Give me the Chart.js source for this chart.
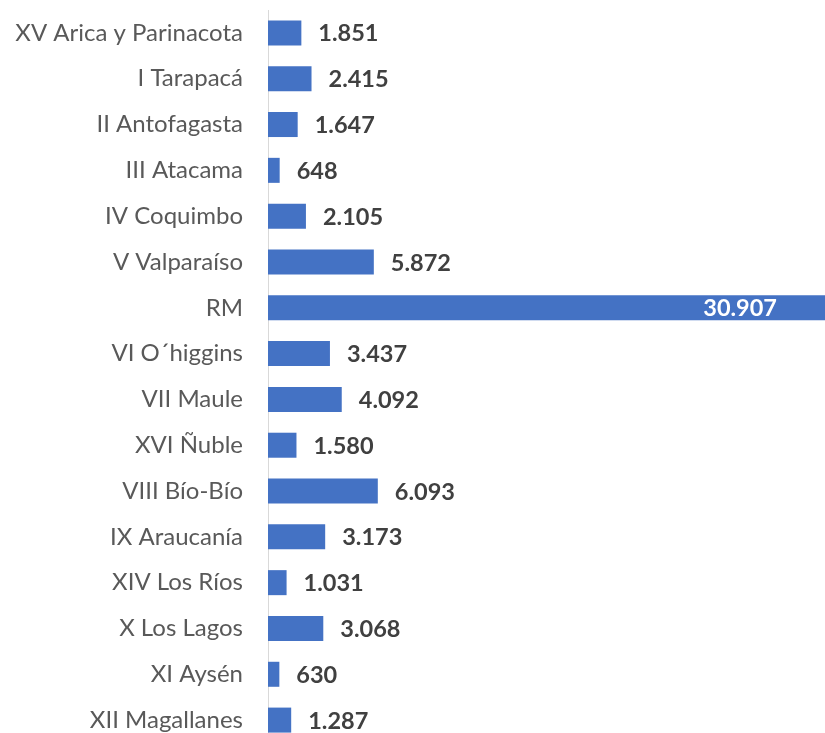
<!DOCTYPE html>
<html>
<head>
<meta charset="utf-8">
<script src="https://cdn.jsdelivr.net/npm/chart.js@4.4.0/dist/chart.umd.min.js"></script>
<style>
  html, body { margin: 0; padding: 0; background: #fff; overflow: hidden; }
  #wrap { position: relative; width: 825px; height: 743px; }
</style>
</head>
<body>
<div id="wrap"><canvas id="regiones"></canvas></div>
<script>
const regiones = ['XV Arica y Parinacota', 'I Tarapacá', 'II Antofagasta', 'III Atacama', 'IV Coquimbo',
    'V Valparaíso', 'RM', 'VI O´higgins', 'VII Maule', 'XVI Ñuble', 'VIII Bío-Bío', 'IX Araucanía',
    'XIV Los Ríos', 'X Los Lagos', 'XI Aysén', 'XII Magallanes'];
const valores = [1851, 2415, 1647, 648, 2105, 5872, 30907, 3437, 4092, 1580, 6093, 3173, 1031, 3068, 630, 1287];

// formato chileno: punto como separador de miles
function fmt(v) {
    return String(v).replace(/\B(?=(\d{3})+(?!\d))/g, '.');
}

// etiquetas de valor al final de cada barra
const etiquetas = {
    id: 'etiquetas',
    afterDatasetsDraw(chart) {
        const ctx = chart.ctx;
        const meta = chart.getDatasetMeta(0);
        ctx.save();
        ctx.font = 'bold 23.5px Lato';
        ctx.textBaseline = 'middle';
        meta.data.forEach((bar, i) => {
            const txt = fmt(valores[i]);
            const w = ctx.measureText(txt).width;
            if (bar.x + 17 + w > chart.chartArea.right) {
                ctx.fillStyle = '#ffffff';
                ctx.textAlign = 'right';
                ctx.fillText(txt, bar.x - 48, bar.y + 1);
            } else {
                ctx.fillStyle = '#404040';
                ctx.textAlign = 'left';
                ctx.fillText(txt, bar.x + 17, bar.y + 1);
            }
        });
        ctx.restore();
    }
};

const ctx = document.getElementById('regiones').getContext('2d');
new Chart(ctx, {
    type: 'bar',
    data: {
        labels: regiones,
        datasets: [{
            data: valores,
            backgroundColor: '#4472C4',
            barPercentage: 0.546,
            categoryPercentage: 1
        }]
    },
    options: {
        indexAxis: 'y',
        responsive: true,
        maintainAspectRatio: false,
        animation: false,
        layout: { padding: { top: 10, bottom: 0, left: 0, right: 0 } },
        plugins: {
            legend: { display: false },
            tooltip: { enabled: false }
        },
        scales: {
            x: {
                display: false,
                min: 0,
                max: 30907
            },
            y: {
                grid: { display: false, drawTicks: false },
                border: { display: true, color: '#d9d9d9', width: 1 },
                ticks: {
                    color: '#595959',
                    font: { family: 'Lato', size: 24 },
                    padding: 25
                },
                afterFit(scale) {
                    scale.width = 268;
                    scale.paddingTop = 0;
                    scale.paddingBottom = 0;
                }
            }
        }
    },
    plugins: [etiquetas]
});
</script>
</body>
</html>
